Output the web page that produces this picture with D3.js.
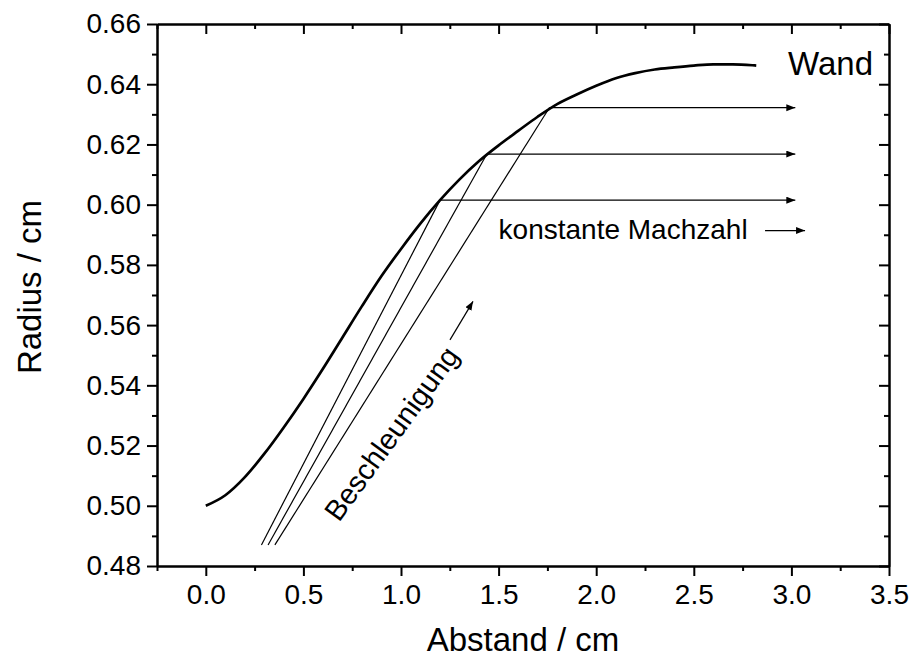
<!DOCTYPE html>
<html><head><meta charset="utf-8">
<script src="https://cdn.jsdelivr.net/npm/d3@7"></script>
<style>body{margin:0;background:#fff}</style>
</head><body><svg id="c" width="911" height="661"></svg>
<script>
// ---- data ----
const xTicks = [0, 0.5, 1.0, 1.5, 2.0, 2.5, 3.0, 3.5];
const xMinor = [-0.25, 0.25, 0.75, 1.25, 1.75, 2.25, 2.75, 3.25];
const yTicks = [0.48, 0.50, 0.52, 0.54, 0.56, 0.58, 0.60, 0.62, 0.64, 0.66];
const yMinor = [0.49, 0.51, 0.53, 0.55, 0.57, 0.59, 0.61, 0.63, 0.65];

const wandX = [0.0, 0.1, 0.2, 0.3, 0.4, 0.5, 0.6, 0.7, 0.8, 0.9, 1.0, 1.1, 1.2, 1.3, 1.4, 1.5, 1.6, 1.7, 1.8, 1.9, 2.0, 2.1, 2.2, 2.3, 2.4, 2.5, 2.6, 2.7, 2.8, 2.82];
const wandR = [0.5000, 0.5035, 0.5095, 0.5173, 0.5261, 0.5355, 0.5455, 0.5559, 0.5663, 0.5763, 0.5853, 0.5938, 0.6015, 0.6084, 0.6145, 0.6197, 0.6245, 0.6292, 0.6334, 0.6366, 0.6395, 0.6420, 0.6437, 0.6449, 0.6456, 0.6462, 0.6466, 0.6466, 0.6463, 0.6462];

const tanStartX = [0.285, 0.319, 0.354];
const tanStartR = [0.487, 0.487, 0.487];
const tanEndX = [1.20, 1.44, 1.76];
const tanEndR = [0.6015, 0.6168, 0.6322];
const arrowTipX = [3.02, 3.02, 3.02];

const labels = {xTitle: "Abstand / cm", yTitle: "Radius / cm", wall: "Wand", mach: "konstante Machzahl", accel: "Beschleunigung"};

// ---- layout ----
const W = 911, H = 661;
const m = {l: 157, r: 22, t: 24, b: 95};
const svg = d3.select("#c");
const font = "'Liberation Sans', Arial, Helvetica, sans-serif";

const x = d3.scaleLinear().domain([-0.25, 3.5]).range([m.l, W - m.r]);
const y = d3.scaleLinear().domain([0.48, 0.66]).range([H - m.b, m.t]);

const defs = svg.append("defs");
defs.append("marker").attr("id", "ah").attr("markerUnits", "userSpaceOnUse")
  .attr("markerWidth", 10).attr("markerHeight", 8).attr("refX", 9).attr("refY", 3.5)
  .attr("orient", "auto")
  .append("path").attr("d", "M0,0 L9,3.5 L0,7 Z").attr("fill", "#000");

// axes
function styleAxis(g) {
  g.selectAll("path,line").attr("stroke", "#000").attr("stroke-width", 2);
  g.selectAll("text").attr("fill", "#000").style("font-family", font).style("font-size", "28px");
}
svg.append("g").attr("transform", `translate(0,${H - m.b})`)
  .call(d3.axisBottom(x).tickValues(xTicks).tickFormat(d3.format(".1f")).tickSize(10).tickSizeOuter(0).tickPadding(8))
  .call(styleAxis);
svg.append("g").attr("transform", `translate(0,${H - m.b})`)
  .call(d3.axisBottom(x).tickValues(xMinor).tickFormat("").tickSize(5).tickSizeOuter(0))
  .call(styleAxis);
svg.append("g").attr("transform", `translate(0,${m.t})`)
  .call(d3.axisBottom(x).tickValues(xTicks).tickFormat("").tickSize(10).tickSizeOuter(0))
  .call(styleAxis);
svg.append("g").attr("transform", `translate(0,${m.t})`)
  .call(d3.axisBottom(x).tickValues(xMinor).tickFormat("").tickSize(5).tickSizeOuter(0))
  .call(styleAxis);
svg.append("g").attr("transform", `translate(${m.l},0)`)
  .call(d3.axisLeft(y).tickValues(yTicks).tickFormat(d3.format(".2f")).tickSize(10).tickSizeOuter(0).tickPadding(6))
  .call(styleAxis);
svg.append("g").attr("transform", `translate(${m.l},0)`)
  .call(d3.axisLeft(y).tickValues(yMinor).tickFormat("").tickSize(5).tickSizeOuter(0))
  .call(styleAxis);
svg.append("g").attr("transform", `translate(${W - m.r},0)`)
  .call(d3.axisLeft(y).tickValues(yTicks).tickFormat("").tickSize(10).tickSizeOuter(0))
  .call(styleAxis);
svg.append("g").attr("transform", `translate(${W - m.r},0)`)
  .call(d3.axisLeft(y).tickValues(yMinor).tickFormat("").tickSize(5).tickSizeOuter(0))
  .call(styleAxis);

// wall curve
const wall = wandX.map((v, i) => [v, wandR[i]]);
svg.append("path").datum(wall)
  .attr("d", d3.line().x(d => x(d[0])).y(d => y(d[1])).curve(d3.curveMonotoneX))
  .attr("fill", "none").attr("stroke", "#000").attr("stroke-width", 2.7).attr("stroke-linejoin", "round");

// tangent lines
tanStartX.forEach((sx, i) => {
  svg.append("line")
    .attr("x1", x(sx)).attr("y1", y(tanStartR[i]))
    .attr("x2", x(tanEndX[i])).attr("y2", y(tanEndR[i]))
    .attr("stroke", "#000").attr("stroke-width", 1.2);
  svg.append("line")
    .attr("x1", x(tanEndX[i])).attr("y1", y(tanEndR[i]))
    .attr("x2", x(arrowTipX[i])).attr("y2", y(tanEndR[i]))
    .attr("stroke", "#000").attr("stroke-width", 1.2).attr("marker-end", "url(#ah)");
});

// annotations
svg.append("text").attr("x", x(2.983)).attr("y", y(0.6432))
  .style("font-family", font).style("font-size", "33px").text(labels.wall);
svg.append("text").attr("x", x(1.50)).attr("y", y(0.5886))
  .style("font-family", font).style("font-size", "28px").text(labels.mach);
svg.append("line").attr("x1", x(2.865)).attr("y1", y(0.5914)).attr("x2", x(3.07)).attr("y2", y(0.5914))
  .attr("stroke", "#000").attr("stroke-width", 1.2).attr("marker-end", "url(#ah)");
svg.append("text").attr("transform", `translate(${x(0.682)},${y(0.4943)}) rotate(-54)`)
  .style("font-family", font).style("font-size", "29px").text(labels.accel);
svg.append("line").attr("x1", x(1.251)).attr("y1", y(0.5551)).attr("x2", x(1.369)).attr("y2", y(0.5679))
  .attr("stroke", "#000").attr("stroke-width", 1.2).attr("marker-end", "url(#ah)");

// axis titles
svg.append("text").attr("x", (m.l + W - m.r) / 2).attr("y", 651).attr("text-anchor", "middle")
  .style("font-family", font).style("font-size", "33px").text(labels.xTitle);
svg.append("text").attr("transform", `translate(41,${(m.t + H - m.b) / 2 - 8}) rotate(-90)`).attr("text-anchor", "middle")
  .style("font-family", font).style("font-size", "33px").text(labels.yTitle);
</script>
</body></html>
